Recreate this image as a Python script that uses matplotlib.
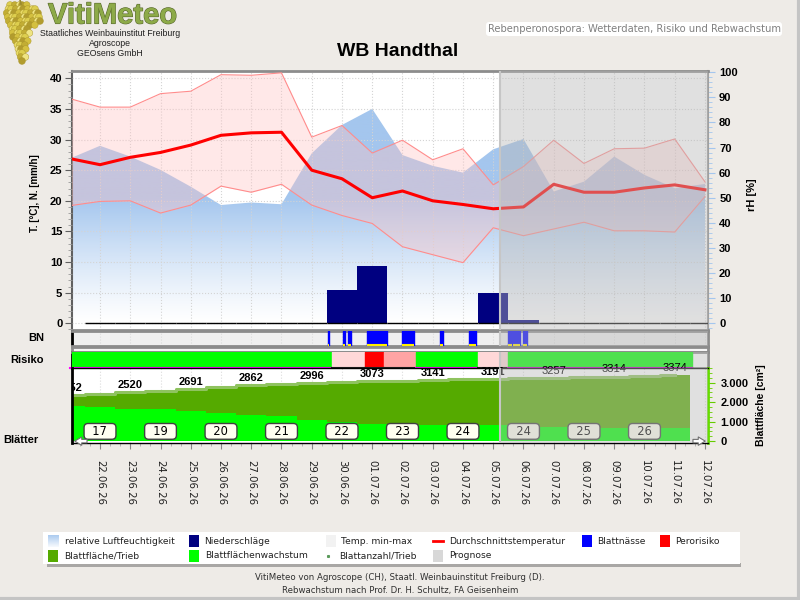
import numpy as np
import matplotlib.pyplot as plt
import matplotlib.transforms as mtransforms
import matplotlib.patheffects as pe
from matplotlib.colors import LinearSegmentedColormap
from matplotlib.patches import Rectangle, Circle, FancyBboxPatch
from matplotlib.ticker import MultipleLocator

# daily values 21.06.26 - 12.07.26
dates = ["21.06.26", "22.06.26", "23.06.26", "24.06.26", "25.06.26", "26.06.26",
         "27.06.26", "28.06.26", "29.06.26", "30.06.26", "01.07.26", "02.07.26",
         "03.07.26", "04.07.26", "05.07.26", "06.07.26", "07.07.26", "08.07.26",
         "09.07.26", "10.07.26", "11.07.26", "12.07.26"]
t_mean = [26.9, 25.9, 27.1, 27.9, 29.1, 30.7, 31.1, 31.2, 25.0, 23.6, 20.5, 21.6,
          20.0, 19.4, 18.7, 19.0, 22.7, 21.4, 21.4, 22.1, 22.6, 21.8]
t_max = [36.7, 35.3, 35.3, 37.5, 37.9, 40.6, 40.5, 40.9, 30.4, 32.3, 27.8, 29.9,
         26.7, 28.5, 22.6, 25.6, 29.9, 26.1, 28.5, 28.6, 30.1, 23.1]
t_min = [19.2, 19.9, 20.0, 18.0, 19.3, 22.4, 21.4, 22.7, 19.3, 17.6, 16.3, 12.5,
         11.2, 9.9, 15.6, 14.3, 15.4, 16.5, 15.1, 15.1, 14.9, 20.7]
rel_hum = [65.6, 70.7, 66.4, 61.1, 54.4, 47.1, 48.1, 47.4, 67.7, 79.0, 85.4, 67.0,
           62.7, 60.0, 69.3, 73.4, 52.5, 56.4, 66.4, 59.1, 53.8, 55.5]
precip = [np.nan, 0, 0, 0, 0, 0, 0, 0, 0, 5.4, 9.4, 0, 0, 0, 4.9, 0.5,
          0, 0, 0, 0, 0, 0]

# leaf area per shoot [cm2] and leaf area growth, 21.06 - 11.07
leaf_area = [2352, 2430, 2520, 2590, 2691, 2780, 2862, 2930, 2996, 3035, 3073,
             3110, 3141, 3165, 3191, 3225, 3257, 3285, 3314, 3345, 3374]
leaf_growth = [1790, 1739, 1667, 1640, 1535, 1448, 1361, 1290, 1105, 987, 885,
               849, 818, 830, 820, 716, 710, 700, 690, 685, 680]
leaf_count_dates = ["22.06.26", "24.06.26", "26.06.26", "28.06.26", "30.06.26",
                    "02.07.26", "04.07.26", "06.07.26", "08.07.26", "10.07.26"]
leaf_count = [17, 19, 20, 21, 22, 23, 24, 24, 25, 26]

# leaf wetness periods: start [h since 21.06 00:00], duration [h]
wet_start = [205, 217, 220.5, 236, 264, 294, 317, 348, 352, 360]
wet_dur = [1, 1, 2.5, 16, 9, 2, 5, 3, 5, 3]

# infection risk: start/end [h since 21.06 00:00], level 0..3
risk_start = [0, 208, 234, 249, 275, 324, 348]
risk_end = [208, 234, 249, 275, 324, 348, 494]
risk_level = [0, 1, 3, 2, 0, 1, 0]
risk_colors = ["#00ff00", "#ffd8d8", "#ffa4a4", "#ff0000"]

prognose_day = "05.07.26"
prognose_hour = 5

bg = "#eeebe7"
x = np.arange(len(dates))
xl = x[:len(leaf_area)]
x_prog = dates.index(prognose_day) + prognose_hour / 24


def axrect(top, bottom, left=72, right=708):
    return [left / 800, 1 - bottom / 600, (right - left) / 800, (bottom - top) / 600]


def overlay(ax):
    ax.axvspan(x_prog, x[-1] + 1, color="#b8b8b8", alpha=0.435, lw=0, zorder=20)
    ax.axvline(x_prog, color="#c6c6c6", lw=1.5, zorder=21)


fig = plt.figure(figsize=(8, 6), dpi=100, facecolor=bg)

# ---- main panel: humidity (host, right axis) + temperature/precip (twin, left)
ax_rh = fig.add_axes(axrect(71, 330))
ax_t = ax_rh.twinx()
ax_rh.yaxis.tick_right()
ax_rh.yaxis.set_label_position("right")
ax_t.yaxis.tick_left()
ax_t.yaxis.set_label_position("left")

cmap = LinearSegmentedColormap.from_list("rh", ["#ffffff", "#a4c6ee"])
levels = np.linspace(-3, 100, 300)
shade = np.clip(levels / 50, 0, 1) ** 1.2
poly = ax_rh.fill_between(x, rel_hum, -3, color="none", lw=0)
im = ax_rh.imshow(shade.reshape(-1, 1), extent=(x[0], x[-1], -3, 100), origin="lower",
                  aspect="auto", cmap=cmap, vmin=0, vmax=1, zorder=1)
im.set_clip_path(poly.get_paths()[0], transform=ax_rh.transData)
ax_rh.set_ylim(-2.7, 100.5)
ax_rh.grid(axis="x", color="#d4d4d4", ls=":", lw=0.8)

ax_t.fill_between(x, t_min, t_max, color="#ffc1c1", alpha=0.37, lw=0, zorder=2)
ax_t.plot(x, t_max, color="#ff8c8c", lw=0.8, zorder=2.2)
ax_t.plot(x, t_min, color="#ff8c8c", lw=0.8, zorder=2.2)
p = np.array(precip)
m = ~np.isnan(p)
ax_t.bar(x[m], p[m], width=1, color="#000080", lw=0, zorder=3)
ax_t.hlines(np.zeros(m.sum()), x[m] - 0.5, x[m] + 0.5, color="black", lw=1, zorder=3.5)
ax_t.plot(x, t_mean, color="#ff0000", lw=2.2, zorder=4)
ax_t.set_ylim(-1.1, 41.2)
ax_t.grid(axis="y", color="#d4d4d4", ls=":", lw=0.8)
overlay(ax_t)

ax_t.set_yticks(range(0, 41, 5))
ax_t.set_yticklabels([str(v) for v in range(0, 41, 5)], fontweight="bold",
                     family="Liberation Sans", fontsize=8)
ax_t.yaxis.set_minor_locator(MultipleLocator(1))
ax_t.tick_params(axis="y", which="major", length=5, color="#606060", pad=2)
ax_t.tick_params(axis="y", which="minor", length=3, color="#999999")
ax_rh.set_yticks(range(0, 101, 10))
ax_rh.set_yticklabels([str(v) for v in range(0, 101, 10)], fontweight="bold",
                      family="Liberation Sans", fontsize=8)
ax_rh.yaxis.set_minor_locator(MultipleLocator(2))
ax_rh.tick_params(axis="y", which="major", length=5, color="#a4c6ee", pad=3)
ax_rh.tick_params(axis="y", which="minor", length=3, color="#a4c6ee")
ax_rh.tick_params(axis="x", which="both", length=0, labelbottom=False)
for s in ax_t.spines.values():
    s.set_visible(False)
for name, col, lw in [("top", "#8c8c8c", 2), ("bottom", "#8c8c8c", 2),
                      ("left", "#606060", 1.5), ("right", "#a0a0a0", 1.5)]:
    ax_rh.spines[name].set_color(col)
    ax_rh.spines[name].set_linewidth(lw)

# ---- leaf wetness
ax_bn = fig.add_axes(axrect(331, 346), sharex=ax_rh)
ax_bn.set_facecolor("#f0f0f0")
spans = [(s / 24, d / 24) for s, d in zip(wet_start, wet_dur)]
ax_bn.broken_barh(spans, (0, 1), color="#0000ff", zorder=3)
ax_bn.hlines(np.full(len(spans), 0.04), [a for a, b in spans], [a + b for a, b in spans],
             color="#ffee00", lw=1.5, zorder=4)
ax_bn.set_ylim(0, 1)
ax_bn.grid(axis="x", color="#dcdcdc", ls=":", lw=0.8)
overlay(ax_bn)

# ---- empty strip
ax_gap = fig.add_axes(axrect(347, 352), sharex=ax_rh)
ax_gap.set_facecolor("#f6f6f6")

# ---- infection risk
ax_rk = fig.add_axes(axrect(352, 368), sharex=ax_rh)
for s0, s1, lv in zip(risk_start, risk_end, risk_level):
    ax_rk.broken_barh([(s0 / 24, (s1 - s0) / 24)], (0, 1), color=risk_colors[lv], zorder=3)
    ax_rk.plot([s0 / 24, s1 / 24], [0.02, 0.02], color="#ff00ff" if lv == 0 else "#202020",
               lw=1.5, zorder=5, clip_on=False)
ax_rk.set_ylim(0, 1)
overlay(ax_rk)

for ax in (ax_bn, ax_gap, ax_rk):
    ax.tick_params(axis="both", which="both", length=0, labelbottom=False, labelleft=False)
    for name in ("top", "bottom", "right"):
        ax.spines[name].set_color("#8c8c8c")
        ax.spines[name].set_linewidth(2)
    ax.spines["left"].set_color("black")
    ax.spines["left"].set_linewidth(2)
ax_gap.spines["left"].set_color("#8c8c8c")
ax_rk.spines["bottom"].set_color("black")
ax_rk.spines["bottom"].set_linewidth(1)

# ---- leaf growth panel
ax_lf = fig.add_axes(axrect(368, 443), sharex=ax_rh)
ax_lf.bar(xl, leaf_area, width=1, color="#55aa00", lw=0, zorder=2)
ax_lf.step(xl, leaf_area, where="mid", color="#8fc35f", lw=2.2, zorder=2.2)
ax_lf.bar(xl, leaf_growth, width=1, color="#00ff00", lw=0, zorder=2.4)
ax_lf.set_ylim(-90, 3750)
ax_lf.grid(axis="x", color="#dcdcdc", ls=":", lw=0.8)

# labels may rise above the panel, but not left/right of it
label_clip = Rectangle((0, 0), 1, 1.4, transform=ax_lf.transAxes)
for i in range(0, len(leaf_area), 2):
    fc = i > x_prog
    t = ax_lf.annotate(str(leaf_area[i]), (xl[i], leaf_area[i]), xytext=(0, 1.5),
                       textcoords="offset points", ha="center", va="bottom",
                       fontsize=8, family="Liberation Sans",
                       fontweight="normal" if fc else "bold", color="black",
                       zorder=6, annotation_clip=False)
    t.set_clip_path(label_clip)

trans = mtransforms.blended_transform_factory(ax_lf.transData, ax_lf.transAxes)
for d, n in zip(leaf_count_dates, leaf_count):
    ax_lf.text(dates.index(d), 0.155, f"  {n}  ", transform=trans, ha="center",
               va="center", fontsize=8.3, color="black", zorder=7,
               bbox=dict(boxstyle="round,pad=0.12,rounding_size=0.35",
                         fc="#fffff0", ec="#404040", lw=1))
overlay(ax_lf)

ax_lf.annotate("", xy=(0.0, 0.025), xytext=(0.028, 0.025), xycoords="axes fraction",
               arrowprops=dict(arrowstyle="simple,head_width=0.6,tail_width=0.25",
                               fc="white", ec="#707070", lw=0.8), zorder=25)
ax_lf.annotate("", xy=(1.0, 0.025), xytext=(0.972, 0.025), xycoords="axes fraction",
               arrowprops=dict(arrowstyle="simple,head_width=0.6,tail_width=0.25",
                               fc="white", ec="#707070", lw=0.8), zorder=25)

ax_lf.yaxis.tick_right()
ax_lf.set_yticks([0, 1000, 2000, 3000])
ax_lf.set_yticklabels(["0", "1.000", "2.000", "3.000"], fontweight="bold",
                      family="Liberation Sans", fontsize=8)
ax_lf.yaxis.set_minor_locator(MultipleLocator(250))
ax_lf.tick_params(axis="y", which="major", length=5, color="#66cc00", pad=4)
ax_lf.tick_params(axis="y", which="minor", length=3, color="#66cc00")
ax_lf.set_xticks(x)
ax_lf.set_xticklabels(dates, rotation=270, fontsize=7.3, color="#202020")
ax_lf.xaxis.set_minor_locator(MultipleLocator(1 / 3))
ax_lf.tick_params(axis="x", which="major", length=4, color="#888888", pad=8)
ax_lf.tick_params(axis="x", which="minor", length=2.5, color="#aaaaaa")
ax_lf.spines["top"].set_color("black")
ax_lf.spines["top"].set_linewidth(1)
ax_lf.spines["left"].set_color("black")
ax_lf.spines["left"].set_linewidth(2)
ax_lf.spines["right"].set_color("#66dd00")
ax_lf.spines["right"].set_linewidth(2)
ax_lf.spines["bottom"].set_color("black")
ax_lf.spines["bottom"].set_linewidth(1)

ax_rh.set_xlim(0.074, 21.1)

# ---- texts, logo, legend (pixel coordinates)
lg = fig.add_axes([0, 0, 1, 1])
lg.set_xlim(0, 800)
lg.set_ylim(600, 0)
lg.axis("off")

fig.text(35 / 800, 1 - 193 / 600, "T. [°C], N. [mm/h]", rotation=90, ha="center",
         va="center", fontsize=7, fontweight="bold", family="Liberation Sans")
fig.text(752 / 800, 1 - 195 / 600, "rH [%]", rotation=90, ha="center", va="center",
         fontsize=8, fontweight="bold", family="Liberation Sans")
fig.text(761 / 800, 1 - 405 / 600, "Blattfläche [cm²]", rotation=90, ha="center",
         va="center", fontsize=7.5, fontweight="bold", family="Liberation Sans")
fig.text(44 / 800, 1 - 338 / 600, "BN", ha="right", va="center", fontsize=8,
         fontweight="bold", family="Liberation Sans")
fig.text(10 / 800, 1 - 360 / 600, "Risiko", ha="left", va="center", fontsize=8,
         fontweight="bold", family="Liberation Sans")
fig.text(3 / 800, 1 - 440 / 600, "Blätter", ha="left", va="center", fontsize=8,
         fontweight="bold", family="Liberation Sans")

lg.text(398, 52, "WB Handthal", ha="center", va="center", fontsize=14,
        fontweight="bold", family="Liberation Sans")

# grape logo
grape_rows = [(5, 7, 29), (9, 4, 40), (13, 3, 44), (17, 4, 45), (21, 5, 44),
              (25, 7, 38), (29, 8, 33), (33, 9, 32), (37, 10, 31), (41, 12, 30),
              (45, 13, 29), (49, 14, 28), (53, 15, 28), (57, 17, 27), (61, 19, 25)]
shades = ["#ddce4e", "#c2ad34", "#efe482", "#b29c2e", "#d4c040", "#e8da66"]
lg.plot([20, 21], [0, 4], color="#9a8a30", lw=1.2)
k = 0
for yy, x0, x1 in grape_rows:
    for xx in np.arange(x0 + 3, x1 - 2.9, 4.0):
        lg.add_patch(Circle((xx + (k % 3) * 0.7, yy), 3.4, fc=shades[k % 6],
                            ec="#a89428", lw=0.3))
        k += 1
lg.text(48, 23.5, "VitiMeteo", ha="left", va="baseline", fontsize=21, fontweight="bold",
        family="Liberation Sans", color="#8daa48",
        path_effects=[pe.withStroke(linewidth=0.8, foreground="#55652a")])
for yy, s in [(34, "Staatliches Weinbauinstitut Freiburg"), (44, "Agroscope"),
              (54, "GEOsens GmbH")]:
    lg.text(110, yy, s, ha="center", va="center", fontsize=6.3, family="Liberation Sans",
            color="#202020")

lg.add_patch(FancyBboxPatch((486, 22), 296, 14, boxstyle="round,pad=0,rounding_size=3",
                            fc="white", ec="none"))
lg.text(634, 29.5, "Rebenperonospora: Wetterdaten, Risiko und Rebwachstum", ha="center",
        va="center", fontsize=7.2, color="#808080")

# legend
lg.add_patch(Rectangle((47, 563), 694, 3.5, fc="#555555", alpha=0.45, lw=0))
lg.add_patch(Rectangle((43, 532), 697, 32, fc="white", lw=0))
lg.imshow(np.linspace(0.9, 0.1, 20).reshape(-1, 1), extent=(48, 59, 547, 535),
          cmap=cmap, vmin=0, vmax=1, aspect="auto", zorder=3)
lg.set_xlim(0, 800)
lg.set_ylim(600, 0)
fs_leg = 6.6
row1 = [(189, "#000080", "Niederschläge"), (326, "#f2f2f2", "Temp. min-max"),
        (582, "#0000ff", "Blattnässe"), (660, "#ff0000", "Perorisiko")]
for sx, col, lab in row1:
    lg.add_patch(Rectangle((sx, 535), 10, 12, fc=col, lw=0, zorder=3))
    lg.text(sx + 15, 541, lab, va="center", fontsize=fs_leg, color="#202020")
lg.text(65, 541, "relative Luftfeuchtigkeit", va="center", fontsize=fs_leg, color="#202020")
lg.plot([433, 443], [541, 541], color="#ff0000", lw=2)
lg.text(449, 541, "Durchschnittstemperatur", va="center", fontsize=fs_leg, color="#202020")
row2 = [(48, "#55aa00", "Blattfläche/Trieb"), (189, "#00ff00", "Blattflächenwachstum"),
        (433, "#d8d8d8", "Prognose")]
for sx, col, lab in row2:
    lg.add_patch(Rectangle((sx, 550), 10, 12, fc=col, lw=0, zorder=3))
    lg.text(sx + 16, 556, lab, va="center", fontsize=fs_leg, color="#202020")
lg.plot([328], [556], marker="s", ms=1.2, color="#5a9a5a", lw=0)
lg.text(339, 556, "Blattanzahl/Trieb", va="center", fontsize=fs_leg, color="#202020")

lg.text(400, 578, "VitiMeteo von Agroscope (CH), Staatl. Weinbauinstitut Freiburg (D).",
        ha="center", va="center", fontsize=6.2, color="#303030")
lg.text(400, 591, "Rebwachstum nach Prof. Dr. H. Schultz, FA Geisenheim",
        ha="center", va="center", fontsize=6.2, color="#303030")
lg.plot([0, 798.5, 798.5], [598.5, 598.5, 0], color="#c4c4c4", lw=3)

fig.savefig("out.png", dpi=100, facecolor=bg)
